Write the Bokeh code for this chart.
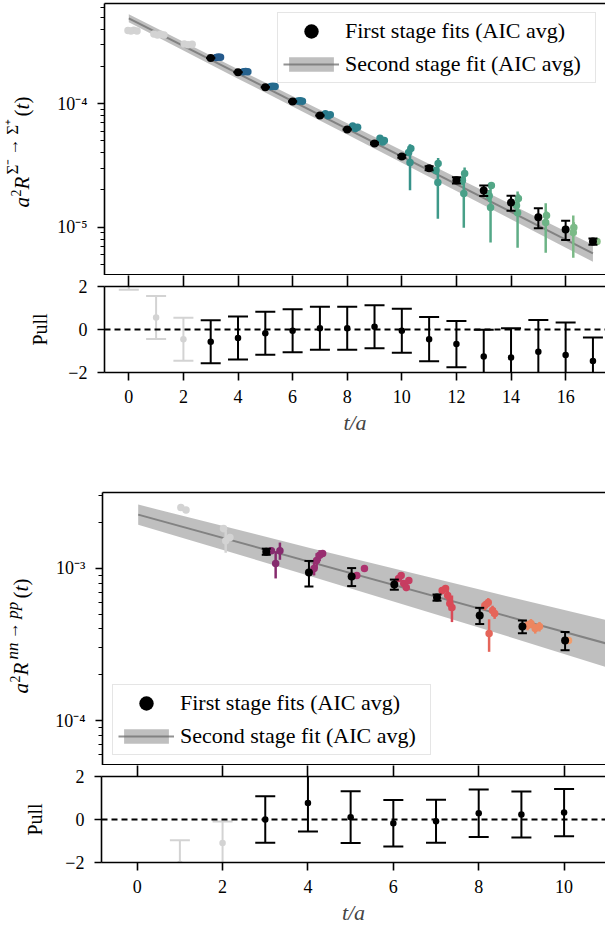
import math
import numpy as np
from bokeh.plotting import figure
from bokeh.models import (ColumnDataSource, LinearAxis, LogAxis, FixedTicker, Range1d, Span,
                          Legend, LegendItem, Label, CustomJSTickFormatter, CustomLabelingPolicy,
                          Grid)
from bokeh.layouts import column, row
from bokeh.embed import file_html
from bokeh.resources import INLINE

SERIF = "Liberation Serif"
GRAY = "#d3d3d3"

# ======================= Σ⁻ → Σ⁺ =======================
sig_t = [3, 4, 5, 6, 7, 8, 9, 10, 11, 12, 13, 14, 15, 16, 17]
sig_val = [2.35e-4, 1.80e-4, 1.36e-4, 1.045e-4, 8.04e-5, 6.19e-5, 4.77e-5, 3.74e-5,
           3.00e-5, 2.40e-5, 1.98e-5, 1.58e-5, 1.20e-5, 9.57e-6, 7.64e-6]
sig_err = [1.0e-6, 0.8e-6, 0.6e-6, 0.5e-6, 0.4e-6, 0.4e-6, 0.8e-6, 0.8e-6,
           1.1e-6, 1.4e-6, 1.9e-6, 2.2e-6, 2.2e-6, 1.7e-6, 0.44e-6]
sig_gray_t = [0, 0, 0, 0, 1, 1, 1, 1, 2, 2, 2]
sig_gray_shift = [-0.03, 0.08, 0.18, 0.3, -0.08, 0.05, 0.17, 0.29, 0.03, 0.17, 0.32]
sig_gray_val = [3.93e-4, 3.90e-4, 3.95e-4, 3.90e-4, 3.68e-4, 3.62e-4, 3.66e-4, 3.62e-4,
                3.05e-4, 3.01e-4, 3.04e-4]
sig_gray_err = [0.0] * 11
sig_fs_t = [3, 3, 3, 4, 4, 4, 5, 5, 5, 6, 6, 6, 7, 7, 7, 8, 8, 8, 9, 9, 9,
            10, 10, 10, 11, 11, 11, 12, 12, 12, 13, 13, 13, 14, 14, 14, 15, 15, 16, 16, 17]
sig_fs_shift = [0.2, 0.28, 0.36, 0.2, 0.28, 0.36, 0.2, 0.28, 0.36, 0.2, 0.28, 0.36,
                0.2, 0.3, 0.38, 0.2, 0.3, 0.38, 0.2, 0.3, 0.36,
                0.33, 0.25, 0.3, 0.33, 0.25, 0.32, 0.3, 0.22, 0.27, 0.28, 0.2, 0.25,
                0.27, 0.2, 0.24, 0.3, 0.27, 0.3, 0.28, 0.15]
sig_fs_val = [2.38e-4, 2.40e-4, 2.39e-4, 1.82e-4, 1.83e-4, 1.82e-4, 1.38e-4, 1.39e-4, 1.38e-4,
              1.055e-4, 1.06e-4, 1.05e-4, 8.3e-5, 8.0e-5, 8.15e-5, 6.6e-5, 6.3e-5, 6.45e-5,
              5.25e-5, 4.9e-5, 5.05e-5, 4.34e-5, 4.03e-5, 3.34e-5, 3.28e-5, 2.88e-5, 2.30e-5,
              2.72e-5, 2.39e-5, 1.87e-5, 2.17e-5, 1.80e-5, 1.44e-5, 1.71e-5, 1.50e-5, 1.31e-5,
              1.24e-5, 1.09e-5, 9.93e-6, 9.04e-6, 7.64e-6]
sig_fs_err = [1e-6, 1e-6, 1e-6, 0.8e-6, 0.8e-6, 0.8e-6, 0.6e-6, 0.6e-6, 0.6e-6,
              0.5e-6, 0.5e-6, 0.5e-6, 0.6e-6, 0.6e-6, 0.6e-6, 0.8e-6, 0.8e-6, 0.8e-6,
              2.0e-6, 1.5e-6, 1.5e-6, 1.5e-6, 2.0e-6, 1.35e-5, 3.5e-6, 2.0e-6, 1.13e-5,
              3.2e-6, 2.0e-6, 8.8e-6, 1.2e-6, 2.0e-6, 6.9e-6, 1.5e-6, 2.0e-6, 6.3e-6,
              1.0e-6, 4.7e-6, 1.0e-6, 3.4e-6, 0.4e-6]
sig_palette = ["#255a8c", "#26628e", "#266b8e", "#27738e", "#297b8d", "#2c838c", "#318b8b",
               "#37928a", "#3e9989", "#48a088", "#53a787", "#5fad86", "#6db486", "#7bba87",
               "#8bc18a"]
sig_fit_t = [0, 17]
sig_fit_val = [4.94e-4, 6.13e-6]
sig_band_t = [0, 4, 8, 12, 17]
sig_band_lo = [4.59e-4, 1.60e-4, 5.64e-5, 1.96e-5, 5.23e-6]
sig_band_hi = [5.32e-4, 1.91e-4, 6.97e-5, 2.53e-5, 7.18e-6]
sig_pull_t = list(range(0, 18))
sig_pull = [2.85, 0.56, -0.45, -0.57, -0.40, -0.17, -0.06, 0.06, 0.06, 0.13, -0.06,
            -0.45, -0.68, -1.26, -1.30, -1.04, -1.19, -1.46]
sig_pull_err = [1.0, 1.0, 1.0, 1.0, 1.0, 1.0, 1.0, 1.0, 1.0, 1.0, 1.02, 1.03, 1.07,
                1.25, 1.36, 1.48, 1.52, 1.09]
sig_tmin = 3

# ======================= nn → pp =======================
nn_t = [3, 4, 5, 6, 7, 8, 9, 10]
nn_val = [1.29e-3, 9.41e-4, 8.86e-4, 7.85e-4, 6.44e-4, 4.91e-4, 4.15e-4, 3.36e-4]
nn_err = [0.06e-3, 0.18e-3, 0.12e-3, 0.06e-3, 0.03e-3, 0.06e-3, 0.04e-3, 0.046e-3]
nn_gray_t = [1, 1, 2, 2, 2]
nn_gray_shift = [0.0, 0.12, 0.0, 0.05, 0.15]
nn_gray_val = [2.52e-3, 2.42e-3, 1.83e-3, 1.52e-3, 1.60e-3]
nn_gray_err = [0.05e-3, 0.04e-3, 0.1e-3, 0.25e-3, 0.05e-3]
nn_fs_t = [3, 3, 3, 4, 4, 4, 4, 5, 5, 6, 6, 6, 6, 6, 7, 7, 7, 7, 7, 8, 8, 8, 8, 8,
           9, 9, 9, 9, 10]
nn_fs_shift = [0.12, 0.22, 0.32, 0.12, 0.18, 0.25, 0.32, 0.12, 0.3, 0.1, 0.16, 0.22, 0.28, 0.34,
               0.12, 0.2, 0.25, 0.3, 0.35, 0.12, 0.2, 0.3, 0.35, 0.22, 0.12, 0.2, 0.3, 0.4, 0.08]
nn_fs_val = [1.31e-3, 1.08e-3, 1.31e-3, 1.0e-3, 1.13e-3, 1.22e-3, 1.255e-3, 8.99e-4, 1.0e-3,
             8.59e-4, 8.99e-4, 7.97e-4, 7.5e-4, 8.34e-4, 7.16e-4, 7.39e-4, 6.64e-4, 5.89e-4,
             5.54e-4, 5.71e-4, 5.98e-4, 5.29e-4, 5.06e-4, 3.73e-4, 4.22e-4, 4.35e-4, 4.03e-4,
             4.15e-4, 3.36e-4]
nn_fs_err = [0.03e-3, 0.22e-3, 0.17e-3, 0.1e-3, 0.13e-3, 0.1e-3, 0.04e-3, 0.03e-3, 0.0,
             0.04e-3, 0.04e-3, 0.04e-3, 0.04e-3, 0.04e-3, 0.04e-3, 0.04e-3, 0.05e-3, 0.06e-3,
             0.11e-3, 0.04e-3, 0.04e-3, 0.04e-3, 0.04e-3, 0.09e-3, 0.03e-3, 0.03e-3, 0.03e-3,
             0.03e-3, 0.015e-3]
nn_palette = ["#862b6e", "#982e70", "#ad326f", "#c63c61", "#d94a57", "#e5655a", "#ed8660",
              "#f19d6c"]
nn_fit_t = [0, 11]
nn_fit_val = [2.26e-3, 3.19e-4]
nn_band_t = [0, 4, 8, 11]
nn_band_lo = [1.94e-3, 8.97e-4, 4.08e-4, 2.23e-4]
nn_band_hi = [2.63e-3, 1.371e-3, 7.26e-4, 4.56e-4]
nn_pull_t = [1, 2, 3, 4, 5, 6, 7, 8, 9, 10]
nn_pull = [-2.07, -1.09, 0.0, 0.77, 0.11, -0.17, -0.08, 0.29, 0.23, 0.32]
nn_pull_err = [1.1, 1.0, 1.08, 1.33, 1.2, 1.08, 1.0, 1.1, 1.07, 1.1]
nn_tmin = 3

# ======================= helpers =======================
POW_FMT = """
const sup = {'-':'\u207b','0':'\u2070','1':'\u00b9','2':'\u00b2','3':'\u00b3','4':'\u2074',
             '5':'\u2075','6':'\u2076','7':'\u2077','8':'\u2078','9':'\u2079'};
const e = Math.round(Math.log10(tick));
return '10' + String(e).split('').map(c => sup[c]).join('');
"""
PULL_FMT = "return tick < 0 ? '\u2212' + Math.abs(tick) : String(tick);"
LW = 1.6
LABW = 52  # width of the strip holding the rotated y labels


def style_axis(ax):
    ax.axis_line_width = LW
    ax.axis_line_color = "black"
    ax.major_tick_line_width = LW
    ax.minor_tick_line_width = 1.2
    ax.major_tick_line_color = "black"
    ax.minor_tick_line_color = "black"
    ax.major_tick_in = 0
    ax.minor_tick_in = 0
    ax.major_label_text_font = SERIF
    ax.major_label_text_font_size = "18px"
    ax.major_label_text_color = "black"


def no_labels(ax):
    ax.major_label_policy = CustomLabelingPolicy(code="return []")
    ax.major_label_text_font_size = "0px"
    ax.major_label_standoff = 0


def hide_grid(p):
    for g in p.select(type=Grid):
        g.visible = False


def base_fig(fw, fh, xr, yr, left, top, bottom, log, xticks, tick_below, tick_above):
    p = figure(frame_width=fw, frame_height=fh, x_range=xr, y_range=yr,
               y_axis_type="log" if log else "linear",
               x_axis_location=None, y_axis_location=None,
               toolbar_location=None, output_backend="svg",
               min_border_left=left, min_border_right=0, min_border_top=top,
               min_border_bottom=bottom)
    p.outline_line_color = None
    p.background_fill_color = "white"
    hide_grid(p)
    xa = LinearAxis(ticker=FixedTicker(ticks=xticks if tick_below else [], minor_ticks=[]))
    style_axis(xa)
    xa.major_tick_out = tick_below
    xa.minor_tick_out = 0
    p.add_layout(xa, "below")
    ya = LogAxis() if log else LinearAxis()
    style_axis(ya)
    p.add_layout(ya, "left")
    sp = LinearAxis(ticker=FixedTicker(ticks=xticks if tick_above else [], minor_ticks=[]))
    style_axis(sp)
    sp.major_tick_out = tick_above
    sp.minor_tick_out = 0
    no_labels(sp)
    p.add_layout(sp, "above")
    return p, xa, ya


def label_fig(fh, top, bottom):
    p = figure(frame_width=LABW, frame_height=fh, x_range=Range1d(0, 1), y_range=Range1d(0, 1),
               x_axis_location=None, y_axis_location=None, toolbar_location=None,
               output_backend="svg", min_border_left=0, min_border_right=0,
               min_border_top=top, min_border_bottom=bottom)
    p.outline_line_color = None
    hide_grid(p)
    return p


def put(p, text, base_x, py, frame_bottom, size, style="italic", align="left"):
    # rotated labels are centred on their anchor across the text direction:
    # shift the anchor so that the text baseline lands on base_x
    px = base_x - 0.338 * size
    p.add_layout(Label(x=px, y=frame_bottom - py, x_units="screen", y_units="screen",
                       text=text, angle=math.pi / 2, text_font=SERIF,
                       text_font_size=f"{size}px",
                       text_font_style=style, text_align=align, text_baseline="alphabetic",
                       text_color="black"))


def main_panel(fw, fh, xr, yr, left, top, xticks, yticks, yminor,
               blk_t, blk_v, blk_e, g_t, g_s, g_v, g_e, fs_t, fs_s, fs_v, fs_e, pal, tmin,
               fit_t, fit_v, band_t, band_lo, band_hi):
    p, xa, ya = base_fig(fw, fh, xr, yr, left, top, 0, True, xticks, 0, 0)
    no_labels(xa)
    xa.axis_line_width = 2 * LW  # half of it is hidden below the frame edge
    ya.ticker = FixedTicker(ticks=yticks, minor_ticks=yminor)
    ya.formatter = CustomJSTickFormatter(code=POW_FMT)
    ya.major_tick_out = 7
    ya.minor_tick_out = 4
    ya.major_label_standoff = 10

    band = p.varea(x=band_t, y1=band_lo, y2=band_hi, fill_color="#808080", fill_alpha=0.5)
    line = p.line(x=fit_t, y=fit_v, line_color="#6e6e6e", line_alpha=0.75, line_width=2)

    gx = [t + s for t, s in zip(g_t, g_s)]
    gsrc = ColumnDataSource(dict(x=gx, y=g_v, lo=[v - e for v, e in zip(g_v, g_e)],
                                 hi=[v + e for v, e in zip(g_v, g_e)]))
    p.segment(x0="x", y0="lo", x1="x", y1="hi", source=gsrc, line_color=GRAY, line_width=2.5)
    p.scatter(x="x", y="y", source=gsrc, size=7.5, fill_color=GRAY, line_color=None)

    fx = [t + s for t, s in zip(fs_t, fs_s)]
    cols = [pal[t - tmin] for t in fs_t]
    fsrc = ColumnDataSource(dict(x=fx, y=fs_v, c=cols, lo=[v - e for v, e in zip(fs_v, fs_e)],
                                 hi=[v + e for v, e in zip(fs_v, fs_e)]))
    p.segment(x0="x", y0="lo", x1="x", y1="hi", source=fsrc, line_color="c", line_width=2.5)
    p.scatter(x="x", y="y", source=fsrc, size=7.5, fill_color="c", line_color=None)

    bsrc = ColumnDataSource(dict(x=blk_t, y=blk_v, lo=[v - e for v, e in zip(blk_v, blk_e)],
                                 hi=[v + e for v, e in zip(blk_v, blk_e)]))
    p.segment(x0="x", y0="lo", x1="x", y1="hi", source=bsrc, line_color="black", line_width=2)
    p.scatter(x="x", y="lo", source=bsrc, marker="dash", size=9, line_color="black", line_width=2)
    p.scatter(x="x", y="hi", source=bsrc, marker="dash", size=9, line_color="black", line_width=2)
    p.scatter(x="x", y="y", source=bsrc, size=8, fill_color="black", line_color=None)

    dummy = p.ellipse(x=np.array([np.nan]), y=np.array([np.nan]), width=15, height=15,
                      width_units="screen", height_units="screen",
                      fill_color="black", line_color=None)
    items = [LegendItem(label="First stage fits (AIC avg)", renderers=[dummy]),
             LegendItem(label="Second stage fit (AIC avg)", renderers=[band, line])]
    return p, items


def pull_panel(fw, xr, left, bottom, xticks, pt, pv, pe, tmin):
    p, xa, ya = base_fig(fw, 86, xr, Range1d(-2, 2), left, 11, bottom, False, xticks, 8, 11)
    xa.major_label_standoff = 9
    xa.axis_label = "t/a"
    xa.axis_label_text_font = SERIF
    xa.axis_label_text_font_style = "italic"
    xa.axis_label_text_font_size = "22px"
    xa.axis_label_standoff = 4
    ya.ticker = FixedTicker(ticks=[-2, 0, 2], minor_ticks=[])
    ya.formatter = CustomJSTickFormatter(code=PULL_FMT)
    ya.major_tick_out = 7
    ya.minor_tick_out = 0
    ya.major_label_standoff = 10
    cols = ["black" if t >= tmin else GRAY for t in pt]
    src = ColumnDataSource(dict(x=pt, y=pv, c=cols, lo=[v - e for v, e in zip(pv, pe)],
                                hi=[v + e for v, e in zip(pv, pe)]))
    p.segment(x0="x", y0="lo", x1="x", y1="hi", source=src, line_color="c", line_width=2)
    p.scatter(x="x", y="lo", source=src, marker="dash", size=20, line_color="c", line_width=2)
    p.scatter(x="x", y="hi", source=src, marker="dash", size=20, line_color="c", line_width=2)
    p.scatter(x="x", y="y", source=src, size=6.5, fill_color="c", line_color=None)
    p.add_layout(Span(location=0, dimension="width", line_color="black", line_width=2,
                      line_dash="6 4"))
    return p


def add_legend(p, items, loc, margin):
    lg = Legend(items=items, location=loc, margin=margin, padding=5, spacing=7,
                glyph_width=56, glyph_height=18, label_height=18, label_width=245,
                label_standoff=6,
                label_text_font=SERIF, label_text_font_size="22px", label_text_color="black",
                border_line_color="#cccccc", border_line_width=1.2,
                background_fill_color="white", background_fill_alpha=0.8)
    p.add_layout(lg)


# ======================= Σ panel =======================
xr1 = Range1d(-0.89, 17.46)
p1, it1 = main_panel(501, 272, xr1, Range1d(4.05e-6, 6.51e-4), 104 - LABW, 3,
                     list(range(0, 18, 2)), [1e-5, 1e-4],
                     [k * 10.0 ** e for e in (-6, -5, -4) for k in range(2, 10)],
                     sig_t, sig_val, sig_err,
                     sig_gray_t, sig_gray_shift, sig_gray_val, sig_gray_err,
                     sig_fs_t, sig_fs_shift, sig_fs_val, sig_fs_err, sig_palette, sig_tmin,
                     sig_fit_t, sig_fit_val, sig_band_t, sig_band_lo, sig_band_hi)
add_legend(p1, it1, "top_right", 9)
l1 = label_fig(272, 3, 0)
FB1 = 275
put(l1, "a", 29, 207, FB1, 21)
put(l1, "2", 20, 196, FB1, 14, "normal")
put(l1, "R", 29, 189, FB1, 21)
put(l1, "\u03a3\u207b\u2009\u2192\u2009\u03a3\u207a", 18, 174, FB1, 17, "normal")
put(l1, "(", 29, 116, FB1, 21, "normal")
put(l1, "t", 29, 109, FB1, 21)
put(l1, ")", 29, 103, FB1, 21, "normal")

p2 = pull_panel(501, xr1, 104 - LABW, 80, list(range(0, 18, 2)), sig_pull_t, sig_pull,
                sig_pull_err, sig_tmin)
l2 = label_fig(86, 11, 80)
put(l2, "Pull", 46, 329, 372, 20, "normal", "center")

# ======================= nn panel =======================
xr2 = Range1d(-0.836, 10.97)
p3, it3 = main_panel(504, 273, xr2, Range1d(5.06e-5, 3.16e-3), 101 - LABW, 40,
                     list(range(0, 12, 2)), [1e-4, 1e-3],
                     [k * 10.0 ** e for e in (-5, -4, -3) for k in range(2, 10)],
                     nn_t, nn_val, nn_err,
                     nn_gray_t, nn_gray_shift, nn_gray_val, nn_gray_err,
                     nn_fs_t, nn_fs_shift, nn_fs_val, nn_fs_err, nn_palette, nn_tmin,
                     nn_fit_t, nn_fit_val, nn_band_t, nn_band_lo, nn_band_hi)
add_legend(p3, it3, "bottom_left", 10)
l3 = label_fig(273, 40, 0)
FB3 = 765
put(l3, "a", 28, 693, FB3, 21)
put(l3, "2", 19, 682, FB3, 14, "normal")
put(l3, "R", 28, 675, FB3, 21)
put(l3, "nn\u2009\u2192\u2009pp", 18, 659, FB3, 17)
put(l3, "(", 28, 598, FB3, 21, "normal")
put(l3, "t", 28, 591, FB3, 21)
put(l3, ")", 28, 585, FB3, 21, "normal")

p4 = pull_panel(504, xr2, 101 - LABW, 68, list(range(0, 12, 2)), nn_pull_t, nn_pull,
                nn_pull_err, nn_tmin)
l4 = label_fig(86, 11, 68)
put(l4, "Pull", 41, 819, 862, 20, "normal", "center")

layout = column(row(l1, p1), row(l2, p2), row(l3, p3), row(l4, p4), spacing=0)
open("out.html", "w").write(file_html(layout, INLINE))
